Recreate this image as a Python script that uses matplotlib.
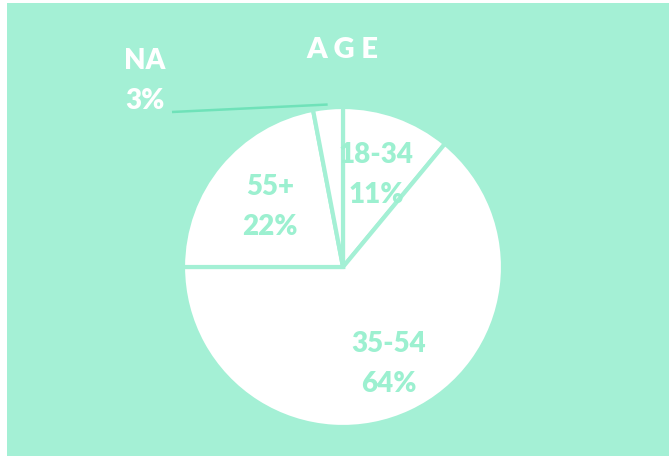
import matplotlib
matplotlib.use("Agg")
import matplotlib.pyplot as plt
import numpy as np
from matplotlib.patches import Rectangle

# data
groups = ["18-34", "35-54", "55+", "NA"]
shares = [11, 64, 22, 3]

mint = "#a4f0d5"
text_mint = "#9cf0d0"
line_mint = "#6fe2b9"

plt.rcParams["font.family"] = ["Lato", "DejaVu Sans"]

W, H = 669, 458
fig = plt.figure(figsize=(W / 100, H / 100), dpi=100, facecolor="white")
ax = fig.add_axes([0, 0, 1, 1])
ax.axis("off")

# mint panel
ax.add_patch(Rectangle((7, 2), W - 7, 453, facecolor=mint,
                       edgecolor="none", zorder=0))

cx, cy, r = 343, H - 267, 160
wedges, _ = ax.pie(shares, startangle=90, counterclock=False,
                   center=(cx, cy), radius=r, colors=["white"] * 4,
                   wedgeprops=dict(edgecolor=mint, linewidth=3, zorder=2))
ax.set_xlim(0, W)
ax.set_ylim(0, H)
ax.set_aspect("auto")

frac = [0.61, 0.67, 0.59]
for w, name, val, f in zip(wedges, groups, shares, frac + [None]):
    mid = np.deg2rad((w.theta1 + w.theta2) / 2)
    if name == "NA":
        lx, ly = 145, H - 81
        ex, ey = cx + r * 1.02 * np.cos(mid), cy + r * 1.02 * np.sin(mid)
        ax.plot([lx + 27, ex], [ly - 31, ey], color=line_mint, lw=1.8,
                solid_capstyle="butt", zorder=3)
        ax.text(lx, ly, f"{name}\n{val}%", ha="center", va="center",
                color="white", fontsize=20, fontweight="heavy", linespacing=1.65,
                zorder=4)
    else:
        lx, ly = cx + r * f * np.cos(mid), cy + r * f * np.sin(mid)
        ax.text(lx, ly, f"{name}\n{val}%", ha="center", va="center",
                color=text_mint, fontsize=20, fontweight="heavy", linespacing=1.65,
                zorder=4)

ax.text(342, H - 50, "A G E", ha="center", va="center", color="white",
        fontsize=21, fontweight="heavy", zorder=4)

fig.savefig("out.png", dpi=100, facecolor="white")
